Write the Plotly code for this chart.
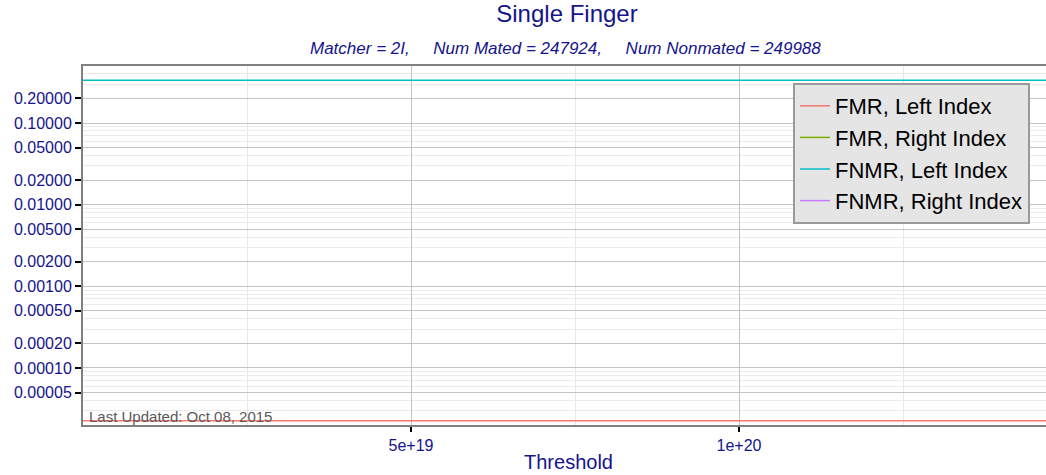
import plotly.graph_objects as go
import numpy as np

# ---- data ----
threshold = [0.0, 1.6e20]
fmr_left = [2.25e-5, 2.25e-5]
fmr_right = []
fnmr_left = [0.334, 0.334]
fnmr_right = []

series_names = ["FMR, Left Index", "FMR, Right Index", "FNMR, Left Index", "FNMR, Right Index"]
series_colors = ["#F8766D", "#7CAE00", "#00BFC4", "#C77CFF"]

y_tick_vals = [0.2, 0.1, 0.05, 0.02, 0.01, 0.005, 0.002, 0.001, 0.0005, 0.0002, 0.0001, 0.00005]
y_tick_text = ["%.5f" % v for v in y_tick_vals]
y_minor_vals = [k * 10.0 ** n for n in range(-5, 0) for k in (3, 4, 6, 7, 8, 9)]
x_tick_vals = [5e19, 1e20]
x_tick_text = ["5e+19", "1e+20"]
x_minor_vals = [2.5e19, 7.5e19, 1.25e20]

title = "Single Finger"
sp = "\u00a0" * 5
subtitle = "Matcher = 2I," + sp + "Num Mated = 247924," + sp + "Num Nonmated = 249988"
footnote = "Last Updated: Oct 08, 2015"

NAVY = "#14148c"
FONT = "Liberation Sans, Arial, sans-serif"

fig = go.Figure()
ys = [fmr_left, fmr_right, fnmr_left, fnmr_right]
for i, (name, col, y) in enumerate(zip(series_names, series_colors, ys)):
    xs = threshold if len(y) else [None]
    yy = y if len(y) else [None]
    fig.add_trace(go.Scatter(x=xs, y=yy, mode="lines", name=name,
                             line=dict(color=col, width=1.5), showlegend=True))

W, H = 1054, 475          # slightly wider than the window: right panel edge is cut off
L, R, T, B = 83, 0, 66, 50
plot_w = W - L - R
px_per_unit = 328 / 5e19
x_max = plot_w / px_per_unit

fig.update_layout(
    width=W, height=H,
    margin=dict(l=L, r=R, t=T, b=B),
    paper_bgcolor="white", plot_bgcolor="white",
    font=dict(family=FONT, color=NAVY),
    title=dict(text=title, x=567 / W, xanchor="center",
               y=1 - 14 / H, yanchor="middle",
               font=dict(size=24, color=NAVY, family=FONT)),
    showlegend=True,
    legend=dict(x=(793 - L) / plot_w, xanchor="left",
                y=(425 - 83) / (H - T - B), yanchor="top",
                bgcolor="#e5e5e5", bordercolor="#9a9a9a", borderwidth=2,
                font=dict(size=22, color="black", family=FONT),
                itemwidth=30),
    xaxis=dict(range=[0, x_max], tickmode="array", tickvals=x_tick_vals,
               ticktext=x_tick_text, ticks="outside", ticklen=5, tickcolor="black",
               tickwidth=1.5, automargin=False,
               showgrid=True, gridcolor="#c4c4c4", gridwidth=1.2,
               minor=dict(tickmode="array", tickvals=x_minor_vals, showgrid=True,
                          gridcolor="#e8e8e8", gridwidth=1, ticks=""),
               showline=True, linecolor="#808080", linewidth=2, mirror=True,
               zeroline=False,
               tickfont=dict(size=16, color=NAVY),
               title=dict(text="Threshold", font=dict(size=20, color=NAVY), standoff=2)),
    yaxis=dict(type="log", range=[np.log10(2e-5), np.log10(0.5)],
               tickmode="array", tickvals=y_tick_vals, ticktext=y_tick_text,
               ticks="outside", ticklen=6, tickcolor="black", tickwidth=1.5,
               automargin=False,
               showgrid=True, gridcolor="#c4c4c4", gridwidth=1.2,
               minor=dict(tickmode="array", tickvals=y_minor_vals, showgrid=True,
                          gridcolor="#ebebeb", gridwidth=1, ticks=""),
               showline=True, linecolor="#808080", linewidth=2, mirror=False,
               zeroline=False,
               tickfont=dict(size=16, color=NAVY)),
)

plot_h = H - T - B
fig.add_annotation(text="<i>" + subtitle + "</i>", xref="paper", yref="paper",
                   x=(565 - L) / plot_w, xanchor="center",
                   y=1 + 18 / plot_h, yanchor="middle", showarrow=False,
                   font=dict(size=17, color=NAVY, family=FONT))
fig.add_annotation(text=footnote, xref="paper", yref="paper",
                   x=4 / plot_w, xanchor="left",
                   y=(425 - 416) / plot_h, yanchor="middle", showarrow=False,
                   font=dict(size=15, color="#5a5a5a", family=FONT))

fig.write_html("out.html", config={"displayModeBar": False},
               post_script=("document.documentElement.style.overflow='hidden';"
                            "document.body.style.margin='0';"
                            "document.body.style.overflow='hidden';"))
